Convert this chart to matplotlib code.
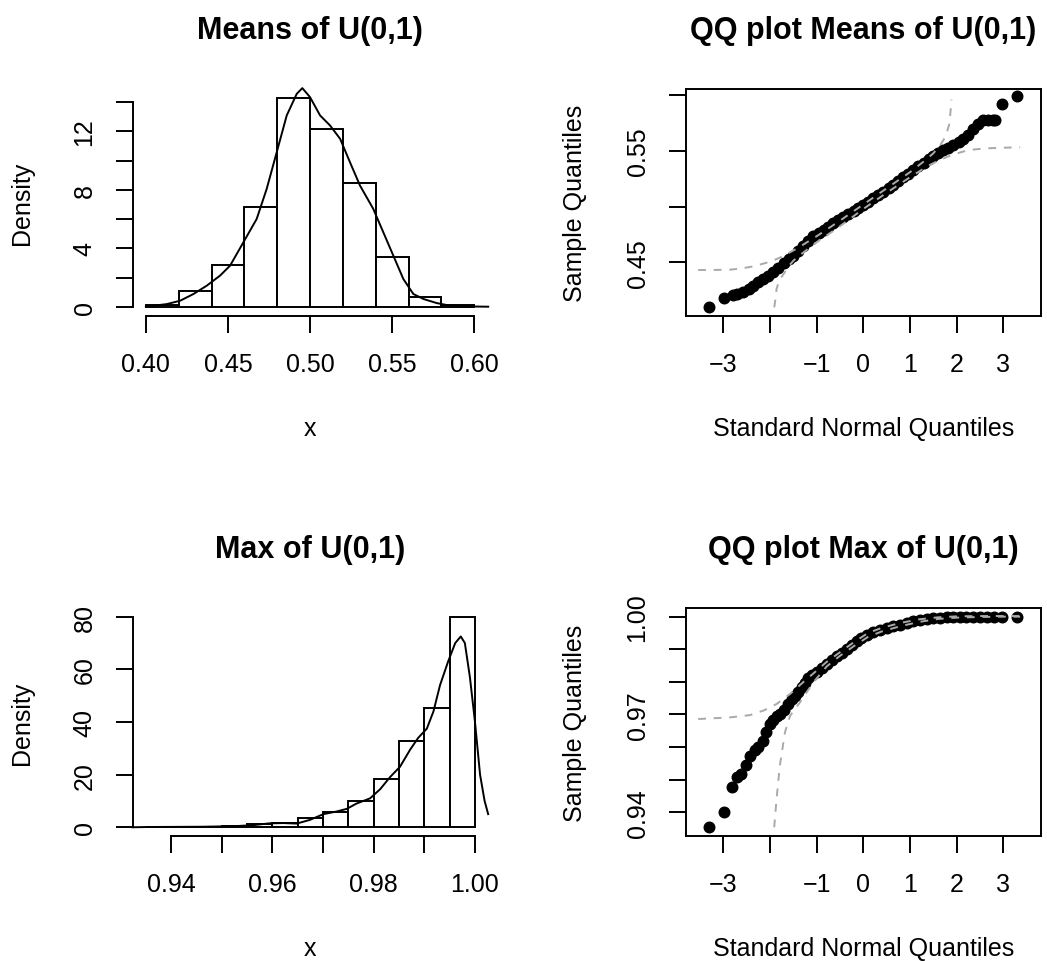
import matplotlib.pyplot as plt

plt.rcParams["font.family"] = ["Liberation Sans", "DejaVu Sans"]

W, H = 1047, 962

# Means of U(0,1): histogram (density) and kernel density curve
mean_edges = [0.40, 0.42, 0.44, 0.46, 0.48, 0.50, 0.52, 0.54, 0.56, 0.58, 0.60]
mean_density = [0.1, 1.05, 2.85, 6.85, 14.3, 12.2, 8.5, 3.4, 0.65, 0.1]
mean_kde_x = [0.400, 0.4128, 0.4209, 0.4290, 0.4371, 0.4452, 0.4513, 0.4594,
              0.4675, 0.4736, 0.4797, 0.4858, 0.4919, 0.4953, 0.5000, 0.5061,
              0.5122, 0.5183, 0.5243, 0.5304, 0.5385, 0.5446, 0.5507, 0.5568,
              0.5629, 0.5690, 0.5771, 0.5852, 0.5953, 0.6085]
mean_kde_y = [0.0, 0.18, 0.41, 0.87, 1.44, 2.13, 2.81, 4.41, 6.01, 8.07,
              10.58, 13.10, 14.58, 14.97, 14.35, 13.10, 12.41, 11.50, 9.90,
              8.30, 6.70, 5.10, 3.50, 1.90, 0.87, 0.53, 0.25, 0.07, 0.02, 0.0]

# Max of U(0,1): histogram (density) and kernel density curve
max_edges = [0.935, 0.940, 0.945, 0.950, 0.955, 0.960, 0.965, 0.970, 0.975,
             0.980, 0.985, 0.990, 0.995, 1.000]
max_density = [0.2, 0.2, 0.2, 0.6, 1.3, 1.65, 3.5, 5.8, 9.9, 18.5, 32.6, 45.4, 80.0]
max_kde_x = [0.9324, 0.9352, 0.9457, 0.9523, 0.9562, 0.9595, 0.9622, 0.9648,
             0.9674, 0.9701, 0.9727, 0.9747, 0.9766, 0.9793, 0.9813, 0.9832,
             0.9852, 0.9872, 0.9888, 0.9905, 0.9918, 0.9931, 0.9947, 0.9961,
             0.9972, 0.9980, 0.9990, 1.0000, 1.0010, 1.0019, 1.0026]
max_kde_y = [0.0, 0.1, 0.2, 0.4, 0.8, 1.5, 1.6, 1.4, 2.8, 5.0, 6.0, 7.0, 9.0,
             11.0, 14.5, 19.0, 23.0, 29.5, 34.0, 37.5, 44.0, 54.0, 63.0, 70.0,
             72.5, 70.0, 57.0, 40.0, 20.0, 10.0, 5.0]

# QQ plot of the means
qq_mean_x = [-3.30, -2.98, -2.79, -2.70, -2.57, -2.46, -2.36, -2.25, -2.14,
             -2.04, -1.93, -1.82, -1.71, -1.60, -1.50, -1.40, -1.29, -1.18,
             -1.07, -0.96, -0.85, -0.75, -0.64, -0.54, -0.43, -0.32, -0.21,
             -0.11, 0.00, 0.11, 0.21, 0.32, 0.43, 0.54, 0.64, 0.75, 0.86, 0.96,
             1.07, 1.18, 1.29, 1.40, 1.50, 1.61, 1.71, 1.82, 1.93, 2.04, 2.14,
             2.25, 2.36, 2.46, 2.57, 2.68, 2.78, 2.82, 2.97, 3.29]
qq_mean_y = [0.4102, 0.4180, 0.4210, 0.4218, 0.4231, 0.4258, 0.4290, 0.4320,
             0.4350, 0.4380, 0.4410, 0.4450, 0.4491, 0.4526, 0.4560, 0.4603,
             0.4645, 0.4690, 0.4735, 0.4765, 0.4795, 0.4822, 0.4852, 0.4880,
             0.4908, 0.4935, 0.4960, 0.4985, 0.5012, 0.5044, 0.5075, 0.5104,
             0.5135, 0.5166, 0.5198, 0.5235, 0.5268, 0.5298, 0.5330, 0.5362,
             0.5395, 0.5425, 0.5455, 0.5485, 0.5508, 0.5528, 0.5555, 0.5585,
             0.5605, 0.5640, 0.5698, 0.5745, 0.5775, 0.5781, 0.5781, 0.5781,
             0.5922, 0.5991]
env_mean_up_x = [-3.54, -3.2, -2.86, -2.6, -2.36, -2.15, -2.0, -1.8, -1.64,
                 -1.4, -1.0, -0.5, 0.0, 0.5, 1.0, 1.36, 1.5, 1.64, 1.72, 1.79,
                 1.84, 1.86, 1.89]
env_mean_up_y = [0.4431, 0.4432, 0.4434, 0.4446, 0.4464, 0.4488, 0.4506,
                 0.4540, 0.4575, 0.4630, 0.4735, 0.4875, 0.5020, 0.5165,
                 0.5310, 0.5428, 0.5480, 0.5548, 0.5600, 0.5668, 0.5740,
                 0.5817, 0.5961]
env_mean_lo_x = [-1.91, -1.88, -1.86, -1.80, -1.71, -1.60, -1.50, -1.36, -1.0,
                 -0.5, 0.0, 0.5, 1.0, 1.4, 1.64, 1.86, 2.0, 2.21, 2.4, 2.64,
                 3.0, 3.36]
env_mean_lo_y = [0.4096, 0.4180, 0.4261, 0.4340, 0.4395, 0.4465, 0.4515,
                 0.4565, 0.4680, 0.4825, 0.4980, 0.5125, 0.5265, 0.5370,
                 0.5420, 0.5458, 0.5478, 0.5503, 0.5515, 0.5524, 0.5530, 0.5533]

# QQ plot of the maxima
qq_max_x = [-3.30, -2.98, -2.82, -2.70, -2.62, -2.51, -2.43, -2.33, -2.25,
            -2.16, -2.08, -2.00, -1.93, -1.86, -1.79, -1.70, -1.61, -1.53,
            -1.46, -1.39, -1.32, -1.25, -1.18, -1.09, -1.00, -0.89, -0.78,
            -0.68, -0.57, -0.46, -0.36, -0.25, -0.14, -0.04, 0.07, 0.21, 0.36,
            0.50, 0.64, 0.79, 0.93, 1.07, 1.21, 1.36, 1.50, 1.64, 1.79, 1.93,
            2.07, 2.21, 2.36, 2.50, 2.64, 2.79, 2.97, 3.29]
qq_max_y = [0.9354, 0.9402, 0.9477, 0.9508, 0.9516, 0.9546, 0.9574, 0.9590,
            0.9599, 0.9620, 0.9645, 0.9671, 0.9684, 0.9695, 0.9702, 0.9714,
            0.9732, 0.9746, 0.9758, 0.9770, 0.9783, 0.9797, 0.9811, 0.9821,
            0.9829, 0.9842, 0.9855, 0.9868, 0.9880, 0.9890, 0.9901, 0.9914,
            0.9926, 0.9936, 0.9945, 0.9952, 0.9958, 0.9964, 0.9970, 0.9976,
            0.9981, 0.9986, 0.9989, 0.9992, 0.9995, 0.9997, 0.9998, 0.9999,
            1.0000, 1.0000, 1.0000, 1.0000, 1.0000, 1.0000, 1.0000, 1.0000]
env_max_up_x = [-3.54, -2.86, -2.43, -2.14, -1.86, -1.57, -1.29, -1.07, -0.78,
                -0.5, -0.2, 0.1, 0.4, 0.8, 1.2, 1.6, 2.0, 2.5, 3.0, 3.36]
env_max_up_y = [0.9686, 0.9691, 0.9698, 0.9712, 0.9732, 0.9763, 0.9799,
                0.9826, 0.9862, 0.9891, 0.9922, 0.9950, 0.9966, 0.9981,
                0.9992, 0.9998, 1.0001, 1.0002, 1.0002, 1.0002]
env_max_lo_x = [-1.91, -1.86, -1.79, -1.68, -1.57, -1.36, -1.07, -0.78, -0.5,
                -0.2, 0.1, 0.4, 0.8, 1.2, 1.6, 2.0, 2.5, 3.0, 3.36]
env_max_lo_y = [0.9354, 0.9441, 0.9543, 0.9645, 0.9696, 0.9737, 0.9799,
                0.9848, 0.9880, 0.9910, 0.9938, 0.9955, 0.9971, 0.9984,
                0.9993, 0.9997, 0.9999, 1.0000, 1.0000]

LW = 1.4
FS = 18


def px_axes(fig, left, top, right, bottom):
    return fig.add_axes([left / W, 1 - bottom / H,
                         (right - left) / W, (bottom - top) / H])


def setup(ax, title, xlabel, ylabel, xticks, xlabels, yticks, ylabels):
    ax.set_xticks(xticks, labels=xlabels)
    ax.set_yticks(yticks, labels=ylabels)
    ax.tick_params(direction="out", length=12, width=LW, labelsize=FS, pad=14)
    ax.tick_params(axis="y", labelrotation=90)
    for lab in ax.get_yticklabels():
        lab.set_va("center")
    for sp in ax.spines.values():
        sp.set_linewidth(LW)
    h = ax.get_position().height * H
    w = ax.get_position().width * W
    ax.text(0.5, 1 + 59 / h, title, transform=ax.transAxes, ha="center",
            va="center", fontsize=22, fontweight="bold")
    ax.text(0.5, -112 / h, xlabel, transform=ax.transAxes, ha="center",
            va="center", fontsize=FS)
    ax.text(-111 / w, 0.5, ylabel, transform=ax.transAxes, ha="center",
            va="center", rotation=90, fontsize=FS)


def hist_panel(ax, edges, dens, kx, ky):
    widths = [edges[i + 1] - edges[i] for i in range(len(dens))]
    ax.bar(edges[:-1], dens, width=widths, align="edge", facecolor="white",
           edgecolor="black", linewidth=LW)
    ax.plot(kx, ky, color="black", linewidth=LW, clip_on=False)
    ax.spines["top"].set_visible(False)
    ax.spines["right"].set_visible(False)


def qq_panel(ax, qx, qy, ux, uy, lx, ly):
    ax.plot(qx, qy, "o", color="black", markersize=7.6)
    ax.plot(ux, uy, color="darkgray", linewidth=LW, dashes=(4, 4))
    ax.plot(lx, ly, color="darkgray", linewidth=LW, dashes=(4, 4))


fig = plt.figure(figsize=(W / 100, H / 100), dpi=100)

# top left
ax1 = px_axes(fig, 132.7, 90, 487.4, 316.7)
hist_panel(ax1, mean_edges, mean_density, mean_kde_x, mean_kde_y)
ax1.set_xlim(0.392, 0.608)
ax1.set_ylim(-0.616, 14.91)
ax1.spines["bottom"].set_bounds(0.40, 0.60)
ax1.spines["left"].set_bounds(0, 14)
setup(ax1, "Means of U(0,1)", "x", "Density",
      [0.40, 0.45, 0.50, 0.55, 0.60], ["0.40", "0.45", "0.50", "0.55", "0.60"],
      [0, 2, 4, 6, 8, 10, 12, 14], ["0", "", "4", "", "8", "", "12", ""])

# top right
qq_ticks = [-3, -2, -1, 0, 1, 2, 3]
qq_labels = ["\u22123", "", "\u22121", "0", "1", "2", "3"]
ax2 = px_axes(fig, 685.7, 90, 1041, 316.7)
qq_panel(ax2, qq_mean_x, qq_mean_y, env_mean_up_x, env_mean_up_y,
         env_mean_lo_x, env_mean_lo_y)
ax2.set_xlim(-3.807, 3.807)
ax2.set_ylim(0.4021, 0.6057)
setup(ax2, "QQ plot Means of U(0,1)", "Standard Normal Quantiles",
      "Sample Quantiles", qq_ticks, qq_labels,
      [0.45, 0.50, 0.55, 0.60], ["0.45", "", "0.55", ""])

# bottom left
ax3 = px_axes(fig, 132.7, 609.3, 487.4, 836.7)
hist_panel(ax3, max_edges, max_density, max_kde_x, max_kde_y)
ax3.set_xlim(0.93244, 1.00245)
ax3.set_ylim(-3.2, 83.2)
ax3.spines["bottom"].set_bounds(0.94, 1.00)
ax3.spines["left"].set_bounds(0, 80)
setup(ax3, "Max of U(0,1)", "x", "Density",
      [0.94, 0.95, 0.96, 0.97, 0.98, 0.99, 1.00],
      ["0.94", "", "0.96", "", "0.98", "", "1.00"],
      [0, 20, 40, 60, 80], ["0", "20", "40", "60", "80"])

# bottom right
ax4 = px_axes(fig, 685.7, 609.3, 1041, 836.7)
qq_panel(ax4, qq_max_x, qq_max_y, env_max_up_x, env_max_up_y,
         env_max_lo_x, env_max_lo_y)
ax4.set_xlim(-3.807, 3.807)
ax4.set_ylim(0.93281, 1.00257)
setup(ax4, "QQ plot Max of U(0,1)", "Standard Normal Quantiles",
      "Sample Quantiles", qq_ticks, qq_labels,
      [0.94, 0.95, 0.96, 0.97, 0.98, 0.99, 1.00],
      ["0.94", "", "", "0.97", "", "", "1.00"])

fig.savefig("out.png", dpi=100)
